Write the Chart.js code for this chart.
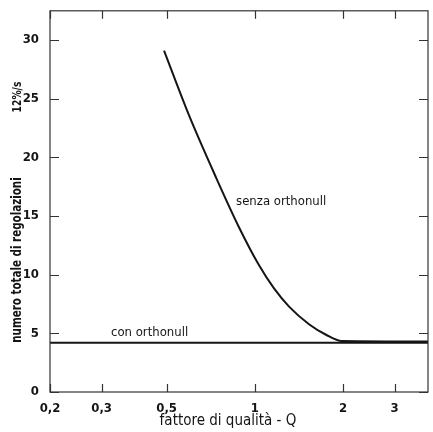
<!DOCTYPE html>
<html>
<head>
<meta charset="utf-8">
<script src="https://cdn.jsdelivr.net/npm/chart.js@4/dist/chart.umd.min.js"></script>
<style>
html,body{margin:0;padding:0;background:#fff;}
#wrap{width:433px;height:432px;position:relative;}
</style>
</head>
<body>
<div id="wrap"><canvas id="c" width="433" height="432"></canvas></div>
<script>
// ---- data ----
const senzaQ      = [0.49, 0.596, 0.737, 0.883, 1.034, 1.163, 1.309, 1.531, 1.75, 1.98, 3.90];
const senzaValues = [29.1, 23.6, 18.3, 14.05, 10.8, 8.83, 7.28, 5.78, 4.88, 4.34, 4.3];
const conQ        = [0.20, 3.90];
const conValues   = [4.2, 4.2];
const xTickValues = [0.2, 0.3, 0.5, 1, 2, 3];
const yTickValues = [0, 5, 10, 15, 20, 25, 30];
const xTitle = 'fattore di qualità - Q';
const yTitle = 'numero totale di regolazioni';
const yUnit  = '12%/s';
const labelSenza = 'senza orthonull';
const labelCon   = 'con orthonull';

const FONT = '"DejaVu Sans Condensed", "DejaVu Sans", sans-serif';
const INK = '#151515';

const toPts = (xs, ys) => xs.map((x, i) => ({x: x, y: ys[i]}));

const framePlugin = {
  id: 'frame',
  afterDraw(chart) {
    const ctx = chart.ctx, a = chart.chartArea;
    const xs = chart.scales.x, ys = chart.scales.y;
    ctx.save();
    ctx.strokeStyle = '#333';
    ctx.lineWidth = 1.2;
    ctx.strokeRect(a.left, a.top, a.right - a.left, a.bottom - a.top);
    ctx.beginPath();
    xTickValues.forEach(v => {
      const p = Math.round(xs.getPixelForValue(v)) + 0.5;
      ctx.moveTo(p, a.bottom); ctx.lineTo(p, a.bottom - 8);
      ctx.moveTo(p, a.top); ctx.lineTo(p, a.top + 8);
    });
    yTickValues.forEach(v => {
      const p = Math.round(ys.getPixelForValue(v)) + 0.5;
      ctx.moveTo(a.left, p); ctx.lineTo(a.left + 9, p);
      ctx.moveTo(a.right, p); ctx.lineTo(a.right - 9, p);
    });
    ctx.stroke();

    ctx.fillStyle = INK;
    // curve labels, anchored to data coordinates
    ctx.font = '13px ' + FONT;
    ctx.textAlign = 'left';
    ctx.textBaseline = 'middle';
    ctx.fillText(labelSenza, xs.getPixelForValue(0.863), ys.getPixelForValue(16.2));
    ctx.fillText(labelCon, xs.getPixelForValue(0.323), ys.getPixelForValue(5.05));

    // x title
    ctx.font = '15px ' + FONT;
    ctx.textAlign = 'center';
    ctx.fillText(xTitle, 228, 421);

    // y title and unit (rotated, horizontally condensed)
    ctx.save();
    ctx.translate(17, 260);
    ctx.rotate(-Math.PI / 2);
    ctx.scale(0.82, 1);
    ctx.font = 'bold 14px ' + FONT;
    ctx.fillText(yTitle, 0, 0);
    ctx.restore();
    ctx.save();
    ctx.translate(18, 97);
    ctx.rotate(-Math.PI / 2);
    ctx.scale(0.85, 1);
    ctx.font = 'bold 12px ' + FONT;
    ctx.fillText(yUnit, 0, 0);
    ctx.restore();
    ctx.restore();
  }
};

new Chart(document.getElementById('c'), {
  type: 'line',
  data: {
    datasets: [
      { label: labelSenza, data: toPts(senzaQ, senzaValues), borderColor: INK, borderWidth: 2,
        pointRadius: 0, cubicInterpolationMode: 'monotone', fill: false },
      { label: labelCon, data: toPts(conQ, conValues), borderColor: INK, borderWidth: 2,
        pointRadius: 0, tension: 0, fill: false }
    ]
  },
  options: {
    responsive: false,
    animation: false,
    layout: { padding: { top: 6, right: 5, left: 0, bottom: 0 } },
    plugins: { legend: { display: false }, tooltip: { enabled: false } },
    scales: {
      x: {
        type: 'logarithmic', min: 0.2, max: 3.9,
        grid: { display: false }, border: { display: false },
        afterBuildTicks: s => { s.ticks = xTickValues.map(v => ({ value: v })); },
        afterFit: s => { s.height = 40; },
        ticks: {
          autoSkip: false, maxRotation: 0, padding: 1, color: INK,
          font: { family: FONT, size: 13, weight: 'bold' },
          callback: v => String(v).replace('.', ',')
        }
      },
      y: {
        type: 'linear', min: 0, max: 32.5,
        grid: { display: false }, border: { display: false },
        afterBuildTicks: s => { s.ticks = yTickValues.map(v => ({ value: v })); },
        afterFit: s => { s.width = 50; },
        ticks: {
          padding: 3, color: INK,
          font: { family: FONT, size: 13, weight: 'bold' }
        }
      }
    }
  },
  plugins: [framePlugin]
});
</script>
</body>
</html>
